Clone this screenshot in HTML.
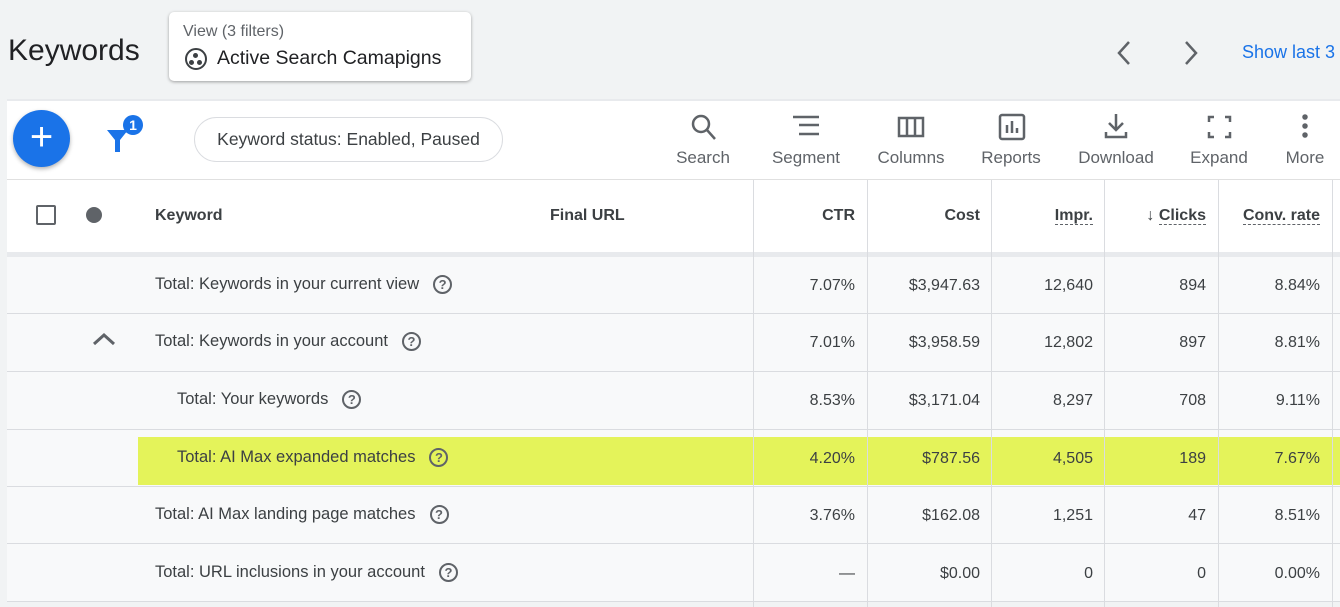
<!DOCTYPE html>
<html><head><style>
*{margin:0;padding:0;box-sizing:border-box}
body{width:1340px;height:607px;background:#f1f3f4;font-family:"Liberation Sans",sans-serif;color:#3c4043;position:relative;overflow:hidden}
.a{position:absolute}
.tb{font-size:17px;color:#5f6368;text-align:center;width:90px}
.num{position:absolute;font-size:16px;text-align:right}
.row{position:absolute;left:7px;width:1333px;height:58px;background:#f8f9fa;border-bottom:1px solid #dadce0}
.lbl{position:absolute;font-size:16.5px;white-space:nowrap}
.q{display:inline-block;width:19px;height:19px;border:2px solid #5f6368;border-radius:50%;font-size:13px;font-weight:bold;text-align:center;line-height:15px;margin-left:14px;vertical-align:0px;color:#5f6368}
.vl{position:absolute;top:180px;width:1px;height:427px;background:#dadce0}
.h{position:absolute;top:207px;font-size:16px;color:#3c4043;font-weight:bold}
.du{border-bottom:1.5px dashed #5f6368}
</style></head><body>
<div class="a" style="left:8px;top:34px;font-size:30px;color:#202124">Keywords</div>
<div class="a" style="left:169px;top:12px;width:302px;height:69px;background:#fff;border-radius:5px;box-shadow:0 1px 3px rgba(0,0,0,.35)">
 <div class="a" style="left:14px;top:11px;font-size:16px;color:#5f6368">View (3 filters)</div>
 <div class="a" style="left:16px;top:36px;width:22px;height:22px;border:2px solid #3c4043;border-radius:50%"><div class="a" style="left:6px;top:3px;width:5px;height:5px;background:#3c4043;border-radius:50%"></div><div class="a" style="left:2px;top:10px;width:5px;height:5px;background:#3c4043;border-radius:50%"></div><div class="a" style="left:10px;top:10px;width:5px;height:5px;background:#3c4043;border-radius:50%"></div></div>
 <div class="a" style="left:48px;top:35px;font-size:19.5px;color:#202124">Active Search Camapigns</div>
</div>
<svg class="a" style="left:1110px;top:38px" width="100" height="30" fill="none" stroke="#5f6368" stroke-width="2.5"><path d="M19 4 L9 15 L19 26"/><path d="M76 4 L86 15 L76 26"/></svg>
<div class="a" style="left:1242px;top:42px;font-size:18px;color:#1a73e8;white-space:nowrap">Show last 3</div>

<div class="a" style="left:7px;top:99px;width:1333px;height:81px;background:#fff;border-top:2px solid #e8eaed;border-bottom:1px solid #e0e0e0"></div>
<div class="a" style="left:13px;top:110px;width:57px;height:57px;border-radius:50%;background:#1a73e8;box-shadow:0 2px 4px rgba(0,0,0,.3);color:#fff;font-size:40px;text-align:center;line-height:54px">+</div>
<svg class="a" style="left:104px;top:114px" width="40" height="40"><path d="M3 16 L24 16 L16 26 L16 38 L11 38 L11 26 Z" fill="#1a73e8"/><circle cx="29" cy="11" r="10" fill="#1a73e8"/><text x="29" y="16" font-size="14" fill="#fff" text-anchor="middle" font-family="Liberation Sans" font-weight="bold">1</text></svg>
<div class="a" style="left:194px;top:117px;width:309px;height:45px;border:1px solid #dadce0;border-radius:23px;font-size:17.5px;line-height:43px;text-align:center;color:#3c4043">Keyword status: Enabled, Paused</div>
<div class="a tb" style="left:658px;top:148px">Search</div>
<div class="a tb" style="left:761px;top:148px">Segment</div>
<div class="a tb" style="left:866px;top:148px">Columns</div>
<div class="a tb" style="left:966px;top:148px">Reports</div>
<div class="a tb" style="left:1071px;top:148px">Download</div>
<div class="a tb" style="left:1174px;top:148px">Expand</div>
<div class="a tb" style="left:1260px;top:148px">More</div>
<svg class="a" style="left:680px;top:112px" width="650" height="30" fill="none" stroke="#5f6368" stroke-width="2.5">
<circle cx="21" cy="12" r="8"/><path d="M27 18 L35 27"/>
<path d="M113 5 H139 M119 13 H139 M119 22 H139"/>
<rect x="219" y="6" width="24" height="18"/><path d="M227 6 V24 M235 6 V24"/>
<rect x="320" y="3" width="24" height="24" rx="2"/><path d="M327 21 V13 M332 21 V9 M337 21 V16"/>
<path d="M436 2 V18 M429 11 L436 18 L443 11 M426 20 V25 H446 V20"/>
<path d="M529 10 V5 H534 M545 5 H550 V10 M550 20 V25 H545 M534 25 H529 V20"/>
<circle cx="625" cy="5" r="1.5" fill="#5f6368"/><circle cx="625" cy="14" r="1.5" fill="#5f6368"/><circle cx="625" cy="23" r="1.5" fill="#5f6368"/>
</svg>

<div class="a" style="left:7px;top:180px;width:1333px;height:78px;background:#fff;border-bottom:6px solid #e8eaed"></div>
<div class="a" style="left:36px;top:205px;width:20px;height:20px;border:2px solid #5f6368;border-radius:2px"></div>
<div class="a" style="left:86px;top:207px;width:16px;height:16px;background:#5f6368;border-radius:50%"></div>
<div class="h" style="left:155px">Keyword</div>
<div class="h" style="left:550px">Final URL</div>
<div class="h" style="right:485px">CTR</div>
<div class="h" style="right:360px">Cost</div>
<div class="h" style="right:247px"><span class="du">Impr.</span></div>
<div class="h" style="right:134px">&#8595; <span class="du">Clicks</span></div>
<div class="h" style="right:20px"><span class="du">Conv. rate</span></div>

<div class="row" style="top:257px;height:57px"></div>
<div class="row" style="top:314px"></div>
<div class="row" style="top:372px"></div>
<div class="row" style="top:430px;height:57px"></div>
<div class="row" style="top:487px;height:57px"></div>
<div class="row" style="top:544px"></div>
<div class="a" style="left:138px;top:437px;width:1202px;height:48px;background:#e4f35a"></div>

<div class="vl" style="left:753px"></div><div class="vl" style="left:867px"></div><div class="vl" style="left:991px"></div><div class="vl" style="left:1104px"></div><div class="vl" style="left:1218px"></div><div class="vl" style="left:1332px"></div>

<svg class="a" style="left:91px;top:332px" width="26" height="16"><path d="M3 12 L13 3 L23 12" stroke="#5f6368" stroke-width="3" fill="none"/></svg>

<div class="lbl" style="left:155px;top:275px">Total: Keywords in your current view<span class="q">?</span></div>
<div class="lbl" style="left:155px;top:332px">Total: Keywords in your account<span class="q">?</span></div>
<div class="lbl" style="left:177px;top:390px">Total: Your keywords<span class="q">?</span></div>
<div class="lbl" style="left:177px;top:448px">Total: AI Max expanded matches<span class="q">?</span></div>
<div class="lbl" style="left:155px;top:505px">Total: AI Max landing page matches<span class="q">?</span></div>
<div class="lbl" style="left:155px;top:563px">Total: URL inclusions in your account<span class="q">?</span></div>

<div class="num" style="right:485px;top:277px">7.07%</div><div class="num" style="right:360px;top:277px">$3,947.63</div><div class="num" style="right:247px;top:277px">12,640</div><div class="num" style="right:134px;top:277px">894</div><div class="num" style="right:20px;top:277px">8.84%</div>
<div class="num" style="right:485px;top:334px">7.01%</div><div class="num" style="right:360px;top:334px">$3,958.59</div><div class="num" style="right:247px;top:334px">12,802</div><div class="num" style="right:134px;top:334px">897</div><div class="num" style="right:20px;top:334px">8.81%</div>
<div class="num" style="right:485px;top:392px">8.53%</div><div class="num" style="right:360px;top:392px">$3,171.04</div><div class="num" style="right:247px;top:392px">8,297</div><div class="num" style="right:134px;top:392px">708</div><div class="num" style="right:20px;top:392px">9.11%</div>
<div class="num" style="right:485px;top:450px">4.20%</div><div class="num" style="right:360px;top:450px">$787.56</div><div class="num" style="right:247px;top:450px">4,505</div><div class="num" style="right:134px;top:450px">189</div><div class="num" style="right:20px;top:450px">7.67%</div>
<div class="num" style="right:485px;top:507px">3.76%</div><div class="num" style="right:360px;top:507px">$162.08</div><div class="num" style="right:247px;top:507px">1,251</div><div class="num" style="right:134px;top:507px">47</div><div class="num" style="right:20px;top:507px">8.51%</div>
<div class="num" style="right:485px;top:565px">—</div><div class="num" style="right:360px;top:565px">$0.00</div><div class="num" style="right:247px;top:565px">0</div><div class="num" style="right:134px;top:565px">0</div><div class="num" style="right:20px;top:565px">0.00%</div>
</body></html>
